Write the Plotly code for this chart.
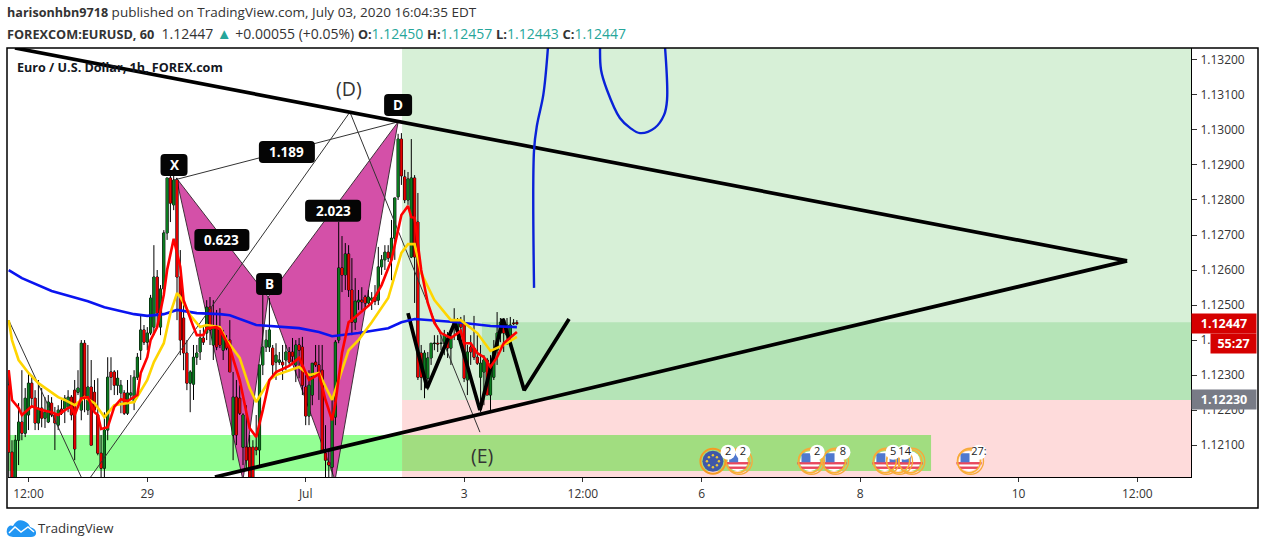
import plotly.graph_objects as go

# ---------- data ----------
opens = [1.12271,1.12080,1.12009,1.12114,1.12166,1.12134,1.12186,1.12277,1.12234,1.12163,
1.12206,1.12177,1.12166,1.12220,1.12186,1.12157,1.12203,1.12203,1.12209,1.12237,
1.12257,1.12251,1.12200,1.12391,1.12200,1.12266,1.12251,1.12186,1.12077,1.12034,
1.12143,1.12309,1.12309,1.12271,1.12249,1.12249,1.12191,1.12243,1.12223,1.12294,
1.12371,1.12429,1.12394,1.12420,1.12437,1.12580,1.12437,1.12546,1.12706,1.12863,
1.12786,1.12857,1.12580,1.12463,1.12363,1.12277,1.12274,1.12351,1.12366,1.12406,
1.12420,1.12494,1.12386,1.12434,1.12429,1.12371,1.12400,1.12400,1.12129,1.12237,
1.12234,1.12094,1.12094,1.12094,1.12094,1.12094,1.12086,1.12329,1.12380,1.12380,
1.12377,1.12337,1.12337,1.12337,1.12343,1.12366,1.12366,1.12329,1.12386,1.12380,
1.12266,1.12183,1.12243,1.12337,1.12329,1.12314,1.12077,1.12051,1.12037,1.12180,
1.12400,1.12606,1.12586,1.12646,1.12543,1.12451,1.12509,1.12514,1.12523,1.12506,
1.12514,1.12523,1.12514,1.12609,1.12629,1.12651,1.12629,1.12691,1.12809,1.12974,
1.12866,1.12800,1.12637,1.12863,1.12737,1.12363,1.12294,1.12291,1.12349,1.12390,
1.12391,1.12390,1.12391,1.12400,1.12377,1.12443,1.12429,1.12457,1.12449,1.12286,
1.12380,1.12377,1.12351,1.12294,1.12309,1.12343,1.12243,1.12294,1.12371,1.12420,
1.12457,1.12414,1.12409,1.12449,1.12450]
highs = [1.12314,1.12114,1.12129,1.12220,1.12314,1.12263,1.12309,1.12300,1.12257,1.12286,
1.12263,1.12237,1.12243,1.12237,1.12209,1.12214,1.12229,1.12243,1.12257,1.12243,
1.12286,1.12314,1.12400,1.12400,1.12386,1.12343,1.12286,1.12291,1.12129,1.12194,
1.12351,1.12351,1.12314,1.12314,1.12286,1.12257,1.12286,1.12300,1.12314,1.12363,
1.12471,1.12443,1.12437,1.12529,1.12671,1.12600,1.12557,1.12714,1.12863,1.12869,
1.12869,1.12863,1.12657,1.12514,1.12400,1.12314,1.12386,1.12386,1.12429,1.12443,
1.12514,1.12523,1.12514,1.12486,1.12491,1.12429,1.12414,1.12457,1.12309,1.12286,
1.12271,1.12191,1.12214,1.12129,1.12114,1.12186,1.12200,1.12563,1.12429,1.12520,
1.12386,1.12391,1.12366,1.12386,1.12386,1.12380,1.12406,1.12400,1.12406,1.12409,
1.12300,1.12314,1.12314,1.12386,1.12386,1.12386,1.12157,1.12086,1.12229,1.12400,
1.12737,1.12697,1.12677,1.12671,1.12634,1.12577,1.12543,1.12551,1.12529,1.12543,
1.12537,1.12557,1.12666,1.12643,1.12671,1.12671,1.12743,1.12806,1.12989,1.12991,
1.12886,1.12880,1.12974,1.12871,1.12820,1.12386,1.12371,1.12366,1.12391,1.12414,
1.12414,1.12414,1.12429,1.12423,1.12414,1.12491,1.12463,1.12466,1.12471,1.12386,
1.12414,1.12469,1.12414,1.12386,1.12357,1.12349,1.12357,1.12400,1.12480,1.12463,
1.12463,1.12463,1.12466,1.12460,1.12457]
lows = [1.12009,1.12000,1.12000,1.12043,1.12114,1.12123,1.12143,1.12206,1.12143,1.12143,
1.12151,1.12149,1.12163,1.12180,1.12086,1.12143,1.12186,1.12163,1.12194,1.12171,
1.12057,1.12243,1.12171,1.12194,1.12186,1.12100,1.12194,1.12071,1.12009,1.12009,
1.12114,1.12257,1.12243,1.12243,1.12191,1.12186,1.12186,1.12229,1.12200,1.12286,
1.12343,1.12386,1.12371,1.12414,1.12414,1.12437,1.12414,1.12529,1.12686,1.12737,
1.12771,1.12457,1.12357,1.12314,1.12257,1.12194,1.12229,1.12329,1.12343,1.12386,
1.12400,1.12386,1.12343,1.12371,1.12377,1.12343,1.12371,1.12309,1.12057,1.12100,
1.12186,1.12043,1.12029,1.12009,1.12009,1.12071,1.12043,1.12300,1.12366,1.12366,
1.12300,1.12286,1.12329,1.12286,1.12314,1.12329,1.12329,1.12280,1.12291,1.12243,
1.12157,1.12157,1.12214,1.12323,1.12229,1.12080,1.12009,1.12009,1.12009,1.12157,
1.12391,1.12537,1.12543,1.12523,1.12414,1.12429,1.12486,1.12486,1.12486,1.12500,
1.12486,1.12500,1.12500,1.12586,1.12600,1.12623,1.12571,1.12629,1.12800,1.12843,
1.12791,1.12786,1.12634,1.12506,1.12286,1.12257,1.12234,1.12257,1.12329,1.12371,
1.12366,1.12371,1.12357,1.12349,1.12329,1.12400,1.12400,1.12386,1.12280,1.12243,
1.12329,1.12343,1.12329,1.12194,1.12214,1.12243,1.12200,1.12286,1.12329,1.12394,
1.12366,1.12386,1.12386,1.12443,1.12443]
closes = [1.12080,1.12009,1.12114,1.12166,1.12134,1.12234,1.12277,1.12234,1.12163,1.12206,
1.12177,1.12194,1.12223,1.12186,1.12163,1.12200,1.12191,1.12234,1.12237,1.12186,
1.12089,1.12263,1.12391,1.12234,1.12266,1.12100,1.12200,1.12077,1.12034,1.12143,
1.12294,1.12294,1.12271,1.12291,1.12271,1.12191,1.12249,1.12249,1.12294,1.12351,
1.12429,1.12394,1.12420,1.12520,1.12580,1.12477,1.12546,1.12706,1.12863,1.12791,
1.12857,1.12580,1.12400,1.12363,1.12277,1.12309,1.12351,1.12363,1.12406,1.12394,
1.12494,1.12429,1.12434,1.12380,1.12386,1.12414,1.12377,1.12309,1.12237,1.12129,
1.12191,1.12186,1.12057,1.12009,1.12009,1.12086,1.12329,1.12380,1.12400,1.12429,
1.12329,1.12357,1.12343,1.12329,1.12366,1.12337,1.12354,1.12386,1.12371,1.12271,
1.12183,1.12271,1.12334,1.12329,1.12309,1.12086,1.12057,1.12043,1.12180,1.12394,
1.12606,1.12586,1.12646,1.12543,1.12451,1.12511,1.12514,1.12509,1.12506,1.12523,
1.12520,1.12511,1.12609,1.12629,1.12651,1.12634,1.12691,1.12806,1.12974,1.12869,
1.12800,1.12860,1.12863,1.12637,1.12294,1.12294,1.12363,1.12349,1.12391,1.12391,
1.12389,1.12391,1.12414,1.12377,1.12411,1.12449,1.12451,1.12437,1.12291,1.12366,
1.12366,1.12351,1.12334,1.12334,1.12343,1.12243,1.12326,1.12371,1.12420,1.12451,
1.12420,1.12443,1.12443,1.12447,1.12447]
bars = list(range(len(opens)))

red_x = [0,0.5,1,3,4,7,10,13,15,18,19,20,22,24,26,27,28,30,32,34,36,39,40,42,43,45,47,48,50,52,53,56,57,59,60,63,64,67,70,73,75,77,79,81,85,88,91,94,96,98,99,101,103,105,110,113,116,119,121,122,123,125,127,129,131,134,137,138,140,142,144,146,148,150,154]
red_y = [1.12314,1.12277,1.12229,1.12206,1.12186,1.12211,1.12200,1.12194,1.12186,1.12206,1.12209,1.12186,1.12234,1.12237,1.12194,1.12186,1.12146,1.12151,1.12209,1.12231,1.12226,1.12243,1.12306,1.12351,1.12400,1.12437,1.12529,1.12600,1.12689,1.12609,1.12514,1.12437,1.12414,1.12414,1.12434,1.12437,1.12431,1.12377,1.12286,1.12149,1.12123,1.12200,1.12286,1.12309,1.12326,1.12349,1.12286,1.12303,1.12229,1.12171,1.12220,1.12363,1.12451,1.12466,1.12506,1.12557,1.12629,1.12757,1.12783,1.12751,1.12749,1.12600,1.12506,1.12449,1.12420,1.12406,1.12426,1.12391,1.12391,1.12363,1.12351,1.12323,1.12351,1.12391,1.12423]
yellow_x = [0,1,3,6,9,15,17,20,23,26,29,32,38,42,44,47,49,51,52,55,58,60,64,66,70,73,75,79,81,88,91,94,98,103,106,110,115,119,121,123,125,129,134,137,142,146,150,154]
yellow_y = [1.12457,1.12400,1.12343,1.12306,1.12277,1.12237,1.12229,1.12214,1.12237,1.12220,1.12180,1.12214,1.12223,1.12286,1.12337,1.12391,1.12477,1.12534,1.12523,1.12471,1.12437,1.12443,1.12437,1.12400,1.12349,1.12263,1.12223,1.12286,1.12300,1.12323,1.12300,1.12306,1.12229,1.12371,1.12400,1.12451,1.12520,1.12649,1.12674,1.12674,1.12591,1.12514,1.12457,1.12457,1.12420,1.12369,1.12386,1.12409]
blue_x = [0,4,13,21,24,29,38,42,47,51,57,64,67,75,88,94,98,106,115,119,123,136,146,154]
blue_y = [1.12600,1.12577,1.12540,1.12520,1.12511,1.12494,1.12474,1.12469,1.12474,1.12486,1.12477,1.12474,1.12471,1.12443,1.12434,1.12423,1.12411,1.12420,1.12434,1.12451,1.12460,1.12451,1.12440,1.12437]

upper_x = [1.9, 338.9]; upper_y = [1.13234, 1.12626]
lower_x = [62.5, 338.9]; lower_y = [1.12009, 1.12626]
wave_x = [121,126.8,135.2,142.8,149.8,156.2,169.8]
wave_y = [1.12477,1.12263,1.12451,1.12200,1.12460,1.12257,1.12460]
doodle1_x = [159.2,159.2,160.1,162,163.4]
doodle1_y = [1.12549,1.12943,1.13014,1.13100,1.13234]
doodle2_x = [179.2,179.5,181.3,185.2,188.3,191.3,195.8,198.6,199.5,198.9]
doodle2_y = [1.13234,1.13171,1.13114,1.13034,1.13006,1.12991,1.13006,1.13043,1.13086,1.13234]
xabcd_x = [50.8,71,78.6,98.9,118]
xabcd_y = [1.12863,1.12000,1.12523,1.12000,1.13023]
xd_x = [50.1,118]; xd_y = [1.12857,1.13023]
alt_x = [0,23.1,103.4,142.8]
alt_y = [1.12457,1.11986,1.13051,1.12137]

tick_vals = [6,42,90,138,174,210,258,306,342]
tick_text = ["12:00","29","Jul","3","12:00","6","8","10","12:00"]
price_ticks = [1.121,1.122,1.123,1.124,1.125,1.126,1.127,1.128,1.129,1.130,1.131,1.132]

label_text = ["X","1.189","0.623","2.023","B","D"]
label_x = [50.1,84.3,64.6,98.3,78.9,118]
label_y = [1.12900,1.12937,1.12686,1.12769,1.12560,1.13071]
label_w = [27,56,55,56,26,28]

eu_x = [213.4]
us_x = [220.9,242.8,250.1,265.5,269.5,273.2,291]
event_y = 1.12054
pill_x = [218,222.5,245,252.8,268,271.5,294]
pill_y = 1.12080
pill_text = ["2","2","2","8","5","14","27:"]
star_dx = [0,4,6,4,0,-4,-6,-4]
star_dy = [6,4,0,-4,-6,-4,0,4]

X0, X1 = -0.21, 358.27
Y0, Y1 = 1.12009, 1.13234
ZONE_L, BAND_R, DARK_L = 119.2, 279.5, 143.4
W, H, ML, MR, MT, MB = 1265, 549, 8, 74, 48, 72
PW, PH = W-ML-MR, H-MT-MB
DX = (X1-X0)/PW      # data units per pixel
DY = (Y1-Y0)/PH

def px(x): return (x-ML)/PW
def py(y): return (H-MB-y)/PH
def poly(xs, ys):
    return "M" + " L".join(f"{a},{b}" for a, b in zip(xs, ys)) + " Z"

def rect(x0, x1, y0, y1, color):
    return dict(type="rect", xref="x", yref="y", x0=x0, x1=x1, y0=y0, y1=y1,
                fillcolor=color, line_width=0, layer="below")

shapes = [
    rect(ZONE_L, X1, 1.12229, Y1, "#d7f0d7"),
    rect(DARK_L, X1, 1.12229, 1.12451, "#b5e4b7"),
    rect(ZONE_L, X1, Y0, 1.12229, "#fedbdb"),
    rect(X0, ZONE_L, 1.12026, 1.12129, "#94ff94"),
    rect(ZONE_L, BAND_R, 1.12026, 1.12129, "#a1dd80"),
]
for a, b in ((0, 3), (2, 5)):
    shapes.append(dict(type="path", xref="x", yref="y", layer="below",
                       path=poly(xabcd_x[a:b], xabcd_y[a:b]),
                       fillcolor="#d450a8", line=dict(color="#40303a", width=1)))

def rounded(cx, cy, w, h=22, r=4):
    hw, hh, rx, ry = w/2*DX, h/2*DY, r*DX, r*DY
    l, rr, b, t = cx-hw, cx+hw, cy-hh, cy+hh
    return (f"M{l+rx},{b} L{rr-rx},{b} Q{rr},{b} {rr},{b+ry} L{rr},{t-ry} Q{rr},{t} {rr-rx},{t} "
            f"L{l+rx},{t} Q{l},{t} {l},{t-ry} L{l},{b+ry} Q{l},{b} {l+rx},{b} Z")
for cx, cy, w in zip(label_x, label_y, label_w):
    shapes.append(dict(type="path", xref="x", yref="y", layer="above",
                       path=rounded(cx, cy, w), fillcolor="#050505", line_width=0))

# frame
shapes.append(dict(type="rect", xref="paper", yref="paper", x0=px(7), x1=px(1258), y0=py(508), y1=py(48),
                   line=dict(color="#000", width=1.5), fillcolor="rgba(0,0,0,0)", layer="above"))
# footer logo
pts = [(13,537),(5,536),(7,529),(9,524),(13,526),(17,518),(24,521),(29,523),(30,527),(37,529),(36,534),(35,537),(31,537)]
path = f"M{px(pts[0][0])},{py(pts[0][1])} "
for i in range(1, len(pts)-1, 2):
    path += f"Q{px(pts[i][0])},{py(pts[i][1])} {px(pts[i+1][0])},{py(pts[i+1][1])} "
path += "Z"
shapes.append(dict(type="path", xref="paper", yref="paper", path=path, fillcolor="#2196f3", line_width=0, layer="above"))
zig = [(9,533),(15,527),(21,532),(28,527),(34,532)]
shapes.append(dict(type="path", xref="paper", yref="paper",
                   path="M" + " L".join(f"{px(a)},{py(b)}" for a, b in zig),
                   line=dict(color="#ffffff", width=1.5), fillcolor="rgba(0,0,0,0)", layer="above"))

fig = go.Figure()
# black wicks and outlines, then bodies on top of them so that the colours read strongly
fig.add_trace(go.Candlestick(x=bars, open=opens, high=highs, low=lows, close=closes,
    increasing=dict(line=dict(color="#000", width=1), fillcolor="#000"),
    decreasing=dict(line=dict(color="#000", width=1), fillcolor="#000"),
    whiskerwidth=0, hoverinfo="skip"))
body_hi = [max(a, b) for a, b in zip(opens, closes)]
body_lo = [min(a, b) for a, b in zip(opens, closes)]
fig.add_trace(go.Candlestick(x=bars, open=opens, high=body_hi, low=body_lo, close=closes,
    increasing=dict(line=dict(color="#0b7a1f", width=0), fillcolor="#0b7a1f"),
    decreasing=dict(line=dict(color="#e60000", width=0), fillcolor="#e60000"),
    whiskerwidth=0, hoverinfo="skip"))

def line(x, y, color, width, shape="linear"):
    fig.add_trace(go.Scatter(x=x, y=y, mode="lines", hoverinfo="skip",
                             line=dict(color=color, width=width, shape=shape)))

line(alt_x, alt_y, "#333333", 1)
line(xd_x, xd_y, "#333333", 1)
line(upper_x, upper_y, "#000000", 3.7)
line(lower_x, lower_y, "#000000", 3.7)
line(wave_x, wave_y, "#000000", 3.7)
line(doodle1_x, doodle1_y, "#0a22d8", 2.4, "spline")
line(doodle2_x, doodle2_y, "#0a22d8", 2.4, "spline")
line(blue_x, blue_y, "#0a14f0", 2.6)
line(yellow_x, yellow_y, "#ffd500", 2.6)
line(red_x, red_y, "#ff0000", 2.6)

def markers(x, y, symbol, size, color, lw=0, lc=None):
    fig.add_trace(go.Scatter(x=x, y=y, mode="markers", hoverinfo="skip",
        marker=dict(symbol=symbol, size=size, color=color, line=dict(width=lw, color=lc or color))))

n_us = len(us_x)
markers(us_x, [event_y]*n_us, "circle", 20, "#ffffff")
markers(us_x, [event_y-2*DY]*n_us, "line-ew", 18, "#e9475c", 2.4, "#e9475c")
markers(us_x, [event_y-6.5*DY]*n_us, "line-ew", 13, "#e9475c", 2.4, "#e9475c")
markers([a-4*DX for a in us_x], [event_y+3.5*DY]*n_us, "square", 9, "#4f78cf")
markers(us_x, [event_y]*n_us, "circle-open", 23, "#f9b233", 1.5, "#f9b233")
markers([a+1.5*DX for a in us_x], [event_y]*n_us, "circle-open", 26, "#f7a93b", 1.3, "#f7a93b")
markers(eu_x, [event_y], "circle", 21, "#3f57a8")
markers(eu_x, [event_y], "circle-open", 25, "#f59a23", 2, "#f59a23")
markers([eu_x[0]+a*DX for a in star_dx], [event_y+b*DY for b in star_dy], "circle", 2.5, "#e9c63a")
markers(pill_x, [pill_y]*len(pill_x), "circle", 15, "#ffffff")
fig.add_trace(go.Scatter(x=pill_x, y=[pill_y]*len(pill_x), mode="text", text=pill_text, hoverinfo="skip",
                         textfont=dict(family="Open Sans", size=11, color="#222")))

FONT = "Open Sans"
ann = []
def txt(x, y, text, size=13, color="#131722", anchor="left", xref="paper", yref="paper"):
    ann.append(dict(x=x, y=y, xref=xref, yref=yref, text=text, showarrow=False, xanchor=anchor, yanchor="middle",
                    font=dict(family=FONT, size=size, color=color)))
TEAL = "#26a69a"
def bold(s, size=12.7):
    return f"<b><span style='font-size:{size}px'>{s}</span></b>"
def val(s):
    return f"<span style='color:{TEAL}'>{s}</span>"
NB = "\u00a0"
txt(px(5), py(12), bold("harisonhbn9718", 12.6) + " published on TradingView.com, July 03, 2020 16:04:35 EDT", 13.5, "#333")
txt(px(5), py(33),
    bold("FOREXCOM:EURUSD, 60") + NB*2 + "1.12447" + NB +
    f"<span style='color:{TEAL};font-size:15px'>▲</span>" + NB + "+0.00055 (+0.05%)" + NB +
    bold("O:") + val("1.12450") + NB + bold("H:", 13) + val("1.12457") + NB +
    bold("L:", 13) + val("1.12443") + NB + bold("C:", 13) + val("1.12447"),
    14, "#333")
txt(px(15), py(67), "<b>Euro / U.S. Dollar, 1h, FOREX.com</b>", 12.6, "#131722")
txt(103.1, 1.13118, "(D)", 19.5, "#333", "center", "x", "y")
txt(143.4, 1.12069, "(E)", 19.5, "#333", "center", "x", "y")
for t, x, y in zip(label_text, label_x, label_y):
    txt(x, y, f"<b>{t}</b>", 13.5, "#ffffff", "center", "x", "y")
txt(px(36), py(528), "TradingView", 13.2, "#333")

def tag(text, left, right, top, bottom, color):
    ann.append(dict(x=px(left), y=py((top+bottom)/2), xref="paper", yref="paper", xanchor="left", yanchor="middle",
                    text=f"<b>{text}</b>", showarrow=False, width=right-left, height=bottom-top, bgcolor=color,
                    borderpad=0, align="center", valign="middle", font=dict(family=FONT, size=12.5, color="#fff")))
tag("1.12447", 1191, 1255, 314, 333, "#d50000")
tag("55:27", 1210, 1255, 334, 353, "#d50000")
tag("1.12230", 1191, 1255, 390, 409, "#787b86")

fig.update_layout(width=W, height=H, margin=dict(l=ML, r=MR, t=MT, b=MB, pad=0),
    paper_bgcolor="#ffffff", plot_bgcolor="#ffffff", showlegend=False, boxgap=0.05,
    shapes=shapes, annotations=ann, font=dict(family=FONT, size=12, color="#333"),
    xaxis=dict(range=[X0, X1], rangeslider=dict(visible=False), showgrid=False, zeroline=False,
               tickmode="array", tickvals=tick_vals, ticktext=tick_text, ticks="outside", ticklen=4,
               tickcolor="#333", showline=True, linecolor="#000", linewidth=1, ticklabelstandoff=2,
               tickfont=dict(family=FONT, size=12, color="#333")),
    yaxis=dict(range=[Y0, Y1], side="right", showgrid=False, zeroline=False, tickmode="array",
               tickvals=price_ticks, ticktext=[f"{v:.5f}" for v in price_ticks], ticks="outside", ticklen=5,
               tickcolor="#333", showline=True, linecolor="#000", linewidth=1, ticklabelstandoff=1,
               tickfont=dict(family=FONT, size=12, color="#333")))

fig.write_html("out.html", config=dict(displayModeBar=False),
               post_script="document.body.style.margin='0';document.body.style.overflow='hidden';")
